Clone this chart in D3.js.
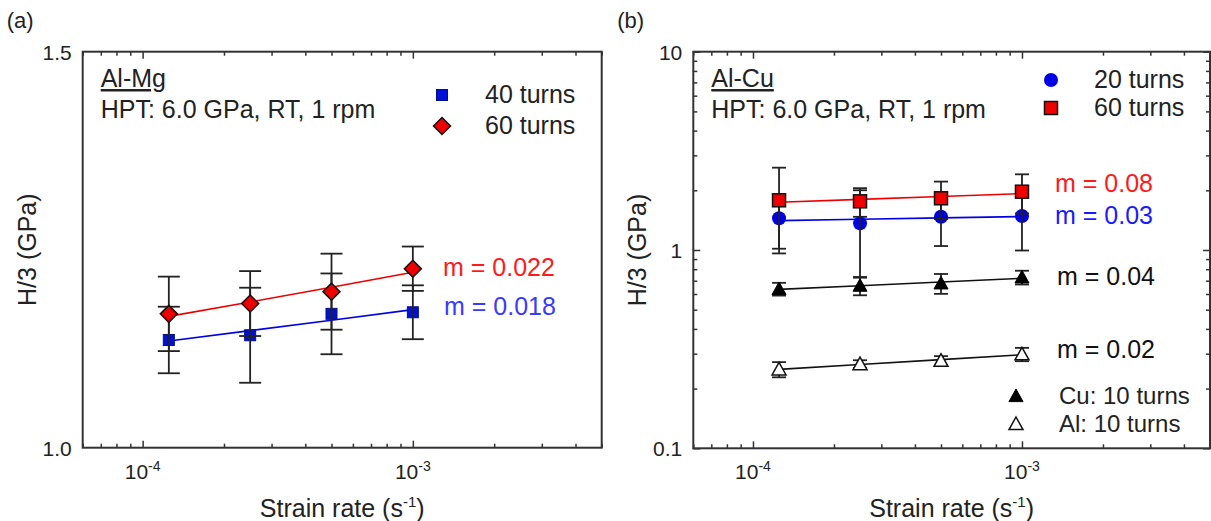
<!DOCTYPE html>
<html>
<head>
<meta charset="utf-8">
<script src="https://cdn.jsdelivr.net/npm/d3@7"></script>
<style>
  body { margin: 0; background: #fff; }
  svg { display: block; font-family: "Liberation Sans", Arial, sans-serif; }
</style>
</head>
<body>
<svg id="chart" width="1211" height="521"></svg>
<script>
// strain rates (s^-1), shared by every series
const strainRates = [1.25e-4, 2.5e-4, 5e-4, 1e-3];

// (a) Al-Mg
const alMg40 = [1.136, 1.142, 1.169, 1.171];
const alMg40Err = [0.042, 0.060, 0.051, 0.034];
const alMg60 = [1.169, 1.182, 1.197, 1.226];
const alMg60Err = [0.047, 0.041, 0.048, 0.028];

// (b) Al-Cu
const alCu20 = [1.445, 1.363, 1.472, 1.484];
const alCu20Err = [0.43, 0.638, 0.425, 0.49];
const alCu60 = [1.781, 1.760, 1.823, 1.968];
const alCu60Err = [0.82, 0.29, 0.39, 0.44];
const cu10 = [0.636, 0.661, 0.679, 0.728];
const cu10Err = [0.047, 0.07, 0.078, 0.058];
const al10 = [0.250, 0.266, 0.2765, 0.298];
const al10Err = [0.022, 0.012, 0.015, 0.023];

const xDomain = [6e-5, 5e-3];
const xMajor = [1e-4, 1e-3];
const xMajorLabels = [['10', '-4'], ['10', '-3']];
const yTicksA = [1.0, 1.5];
const yTickLabelsA = ['1.0', '1.5'];
const yTicksB = [0.1, 1, 10];
const yTickLabelsB = ['0.1', '1', '10'];

const svg = d3.select('#chart');
const RED = '#ee0000', BLUE = '#0000e6', BAR = '#222';
const FS = 25;

function rows(ys, errs) {
    return strainRates.map((x, i) => ({x: x, y: ys[i], e: errs[i]}));
}

// least squares on ln-ln, gives the strain rate sensitivity line
function fitLine(data) {
    const lx = data.map(d => Math.log(d.x)), ly = data.map(d => Math.log(d.y));
    const mx = d3.mean(lx), my = d3.mean(ly);
    const m = d3.sum(lx, (v, i) => (v - mx) * (ly[i] - my)) / d3.sum(lx, v => (v - mx) * (v - mx));
    return data.map(d => ({x: d.x, y: Math.exp(my + m * (Math.log(d.x) - mx))}));
}

function marker(g, shape, cx, cy, opt) {
    let el;
    if (shape === 'square') {
        el = g.append('rect').attr('x', cx - opt.size / 2).attr('y', cy - opt.size / 2)
            .attr('width', opt.size).attr('height', opt.size);
    } else if (shape === 'circle') {
        el = g.append('circle').attr('cx', cx).attr('cy', cy).attr('r', opt.size / 2);
    } else if (shape === 'diamond') {
        const r = opt.size / 2;
        el = g.append('path').attr('d', `M${cx},${cy - r}L${cx + r},${cy}L${cx},${cy + r}L${cx - r},${cy}Z`);
    } else {
        const r = opt.size / 2;
        el = g.append('path').attr('d', `M${cx},${cy - r}L${cx + r},${cy + r * 0.8}L${cx - r},${cy + r * 0.8}Z`);
    }
    el.attr('fill', opt.fill).attr('stroke', opt.stroke || 'none').attr('stroke-width', opt.sw || 1.2);
}

function drawPanel(p) {
    const g = svg.append('g');
    const x = d3.scaleLog().domain(xDomain).range([p.left, p.right]);
    const y = p.log
        ? d3.scaleLog().domain(p.yDomain).range([p.bottom, p.top])
        : d3.scaleLinear().domain(p.yDomain).range([p.bottom, p.top]);

    // x ticks, bottom and top, pointing inward
    const minorX = x.ticks().filter(v => !xMajor.some(m => Math.abs(m - v) / m < 1e-6));
    [[d3.axisBottom, p.bottom], [d3.axisTop, p.top]].forEach(([ax, pos]) => {
        g.append('g').attr('transform', `translate(0,${pos})`)
            .call(ax(x).tickValues(minorX).tickSize(-4).tickFormat(''))
            .call(s => s.select('.domain').remove());
        g.append('g').attr('transform', `translate(0,${pos})`)
            .call(ax(x).tickValues(xMajor).tickSize(-7).tickFormat(''))
            .call(s => s.select('.domain').remove());
    });

    if (p.log) {
        const minorY = y.ticks().filter(v => !yTicksB.some(m => Math.abs(m - v) / m < 1e-6));
        [[d3.axisLeft, p.left], [d3.axisRight, p.right]].forEach(([ax, pos]) => {
            g.append('g').attr('transform', `translate(${pos},0)`)
                .call(ax(y).tickValues(minorY).tickSize(-4).tickFormat(''))
                .call(s => s.select('.domain').remove());
            g.append('g').attr('transform', `translate(${pos},0)`)
                .call(ax(y).tickValues(yTicksB).tickSize(-7).tickFormat(''))
                .call(s => s.select('.domain').remove());
        });
    }
    g.selectAll('.tick line').attr('stroke', '#333').attr('stroke-width', 1.5);

    // frame
    g.append('rect').attr('x', p.left).attr('y', p.top)
        .attr('width', p.right - p.left).attr('height', p.bottom - p.top)
        .attr('fill', 'none').attr('stroke', '#333').attr('stroke-width', 2);

    // tick labels
    p.yTicks.forEach((v, i) => {
        g.append('text').attr('x', p.left - 11).attr('y', y(v) + 8)
            .attr('text-anchor', 'end').attr('font-size', 21).attr('fill', '#222')
            .text(p.yLabels[i]);
    });
    xMajor.forEach((v, i) => {
        const t = g.append('text').attr('x', x(v)).attr('y', p.bottom + 31)
            .attr('text-anchor', 'middle').attr('font-size', 21).attr('fill', '#222');
        t.append('tspan').text(xMajorLabels[i][0]);
        t.append('tspan').attr('font-size', 14).attr('dy', -8).text(xMajorLabels[i][1]);
    });

    // axis titles
    const xt = g.append('text').attr('x', (p.left + p.right) / 2).attr('y', p.bottom + 69)
        .attr('text-anchor', 'middle').attr('font-size', FS).attr('fill', '#222');
    xt.append('tspan').text('Strain rate (s');
    xt.append('tspan').attr('font-size', 15).attr('dy', -10).text('-1');
    xt.append('tspan').attr('dy', 10).text(')');
    g.append('text').attr('transform', `translate(${p.left - 47},${(p.top + p.bottom) / 2}) rotate(-90)`)
        .attr('text-anchor', 'middle').attr('font-size', FS).attr('fill', '#222').text('H/3 (GPa)');

    g.append('text').attr('x', p.left - 76).attr('y', 28).attr('font-size', 22).attr('fill', '#222').text(p.tag);
    g.append('text').attr('x', p.left + 18).attr('y', 87).attr('font-size', FS).attr('fill', '#222')
        .style('text-decoration', 'underline').text(p.alloy);
    g.append('text').attr('x', p.left + 18).attr('y', 118).attr('font-size', FS).attr('fill', '#222')
        .text('HPT: 6.0 GPa, RT, 1 rpm');

    const line = d3.line().x(d => x(d.x)).y(d => y(d.y));
    const bars = (s) => {
        s.data.forEach(d => {
            const y0 = y(Math.max(d.y - d.e, p.yDomain[0])), y1 = y(d.y + d.e), cx = x(d.x);
            g.append('line').attr('x1', cx).attr('x2', cx).attr('y1', y0).attr('y2', y1)
                .attr('stroke', BAR).attr('stroke-width', 1.8);
            [y0, y1].forEach(cy => g.append('line').attr('x1', cx - p.cap).attr('x2', cx + p.cap)
                .attr('y1', cy).attr('y2', cy).attr('stroke', BAR).attr('stroke-width', 1.8));
        });
    };

    p.series.forEach(s => {
        g.append('path').datum(fitLine(s.data)).attr('d', line)
            .attr('fill', 'none').attr('stroke', s.lineColor).attr('stroke-width', 1.6);
    });
    p.series.forEach(s => {
        if (!s.barsOnTop) bars(s);
        s.data.forEach(d => marker(g, s.shape, x(d.x), y(d.y), s));
        if (s.barsOnTop) bars(s);
    });

    // slope labels
    p.slopes.forEach(l => {
        g.append('text').attr('x', l.x).attr('y', l.y).attr('font-size', FS).attr('fill', l.color).text(l.text);
    });

    // legend
    p.legend.forEach(l => {
        marker(g, l.s.shape, l.x, l.y, l.s);
        g.append('text').attr('x', l.x + 43).attr('y', l.y + 8).attr('font-size', l.fs || FS).attr('fill', '#222').text(l.s.name);
    });
}

const sA40 = {name: '40 turns', data: rows(alMg40, alMg40Err), shape: 'square', size: 11, fill: '#0010d8', stroke: '#00108a', sw: 1, lineColor: BLUE, barsOnTop: true};
const sA60 = {name: '60 turns', data: rows(alMg60, alMg60Err), shape: 'diamond', size: 17, fill: RED, stroke: '#111', sw: 1.5, lineColor: RED};
const sB20 = {name: '20 turns', data: rows(alCu20, alCu20Err), shape: 'circle', size: 14, fill: BLUE, stroke: 'none', lineColor: BLUE, barsOnTop: true};
const sB60 = {name: '60 turns', data: rows(alCu60, alCu60Err), shape: 'square', size: 13, fill: RED, stroke: '#111', sw: 1.5, lineColor: RED};
const sCu = {name: 'Cu: 10 turns', data: rows(cu10, cu10Err), shape: 'triangle', size: 14, fill: '#000', stroke: '#000', sw: 1, lineColor: '#111'};
const sAl = {name: 'Al: 10 turns', data: rows(al10, al10Err), shape: 'triangle', size: 14, fill: '#fff', stroke: '#111', sw: 1.5, lineColor: '#111'};

drawPanel({
    tag: '(a)', alloy: 'Al-Mg', left: 82.7, right: 601.7, top: 51.7, bottom: 447.7,
    log: false, yDomain: [1.0, 1.5], yTicks: yTicksA, yLabels: yTickLabelsA, cap: 11,
    series: [sA40, sA60],
    slopes: [{x: 443, y: 276, color: '#ff1a1a', text: 'm = 0.022'}, {x: 444, y: 315, color: '#3a3aff', text: 'm = 0.018'}],
    legend: [{s: sA40, x: 442, y: 95}, {s: sA60, x: 442, y: 126}]
});
drawPanel({
    tag: '(b)', alloy: 'Al-Cu', left: 693.3, right: 1210, top: 51.7, bottom: 448.3,
    log: true, yDomain: [0.1, 10], yTicks: yTicksB, yLabels: yTickLabelsB, cap: 7,
    series: [sAl, sCu, sB20, sB60],
    slopes: [{x: 1055, y: 192, color: '#ff1a1a', text: 'm = 0.08'}, {x: 1055, y: 224, color: '#1a1aff', text: 'm = 0.03'},
             {x: 1057, y: 285, color: '#111', text: 'm = 0.04'}, {x: 1057, y: 358, color: '#111', text: 'm = 0.02'}],
    legend: [{s: sB20, x: 1051, y: 80}, {s: sB60, x: 1051, y: 108},
             {s: sCu, x: 1016, y: 396, fs: 24}, {s: sAl, x: 1016, y: 424, fs: 24}]
});
</script>
</body>
</html>
